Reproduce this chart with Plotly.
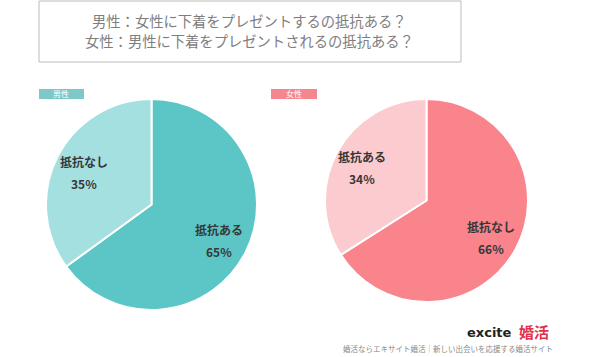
import math
import plotly.graph_objects as go

title_lines = ["男性：女性に下着をプレゼントするの抵抗ある？", "女性：男性に下着をプレゼントされるの抵抗ある？"]

male_labels = ["抵抗ある", "抵抗なし"]
male_values = [65, 35]
male_colors = ["#5cc6c6", "#a5e0e1"]

female_labels = ["抵抗なし", "抵抗ある"]
female_values = [66, 34]
female_colors = ["#f9848b", "#fccbcf"]

group_names = ["男性", "女性"]
group_colors = ["#7fc8c9", "#f6868e"]

footer_logo = "excite"
footer_logo2 = "婚活"
footer_sub = "婚活ならエキサイト婚活｜新しい出会いを応援する婚活サイト"

W, H = 600, 357
FONT = "Noto Sans CJK JP"


def px_x(x):
    return x / W


def px_y(y):
    return 1 - y / H


# pie geometry in pixels: (left, right, top, bottom)
pies = [
    (male_labels, male_values, male_colors, (46, 257, 99, 310)),
    (female_labels, female_values, female_colors, (325, 528, 99, 302)),
]

fig = go.Figure()
annotations = []

for labels, values, colors, (l, r, t, b) in pies:
    fig.add_trace(go.Pie(
        labels=labels, values=values, sort=False, direction="clockwise", rotation=0,
        marker=dict(colors=colors, line=dict(color="white", width=2)),
        textinfo="none",
        domain=dict(x=[px_x(l), px_x(r)], y=[px_y(b), px_y(t)]),
        showlegend=False, hoverinfo="label+percent",
    ))
    cx, cy = (l + r) / 2, (t + b) / 2
    rad = min(r - l, b - t) / 2
    total = sum(values)
    cum = 0
    for lab, v in zip(labels, values):
        mid = (cum + v / 2) / total * 2 * math.pi
        cum += v
        tx = cx + 0.72 * rad * math.sin(mid)
        ty = cy - 0.72 * rad * math.cos(mid) + 2
        pct = round(v / total * 100)
        annotations.append(dict(text="<b>" + lab + "</b>", x=px_x(tx), y=px_y(ty - 11), xref="paper", yref="paper",
                                showarrow=False, font=dict(size=12, color="#383838", family=FONT),
                                xanchor="center", yanchor="middle"))
        annotations.append(dict(text="<b>%d%%</b>" % pct, x=px_x(tx), y=px_y(ty + 11), xref="paper", yref="paper",
                                showarrow=False, font=dict(size=12, color="#383838", family=FONT),
                                xanchor="center", yanchor="middle"))

shapes = [
    dict(type="rect", xref="paper", yref="paper", x0=px_x(39), x1=px_x(461), y0=px_y(62), y1=px_y(1),
         line=dict(color="#bbbbbb", width=1), fillcolor="white", layer="below"),
    dict(type="rect", xref="paper", yref="paper", x0=px_x(39), x1=px_x(84), y0=px_y(99), y1=px_y(89),
         line=dict(width=0), fillcolor=group_colors[0]),
    dict(type="rect", xref="paper", yref="paper", x0=px_x(271), x1=px_x(317), y0=px_y(99), y1=px_y(89),
         line=dict(width=0), fillcolor=group_colors[1]),
]

annotations += [
    dict(text=title_lines[0], x=px_x(249), y=px_y(20), xref="paper", yref="paper", showarrow=False,
         font=dict(size=14.3, color="#7e7e7e", family=FONT), xanchor="center", yanchor="middle"),
    dict(text=title_lines[1], x=px_x(249), y=px_y(40), xref="paper", yref="paper", showarrow=False,
         font=dict(size=14.3, color="#7e7e7e", family=FONT), xanchor="center", yanchor="middle"),
    dict(text=group_names[0], x=px_x(61.5), y=px_y(94), xref="paper", yref="paper", showarrow=False,
         font=dict(size=8, color="white", family=FONT), xanchor="center", yanchor="middle"),
    dict(text=group_names[1], x=px_x(294), y=px_y(94), xref="paper", yref="paper", showarrow=False,
         font=dict(size=8, color="white", family=FONT), xanchor="center", yanchor="middle"),
    dict(text="<b>" + footer_logo + "</b>", x=px_x(514), y=px_y(332), xref="paper", yref="paper", showarrow=False,
         font=dict(size=13, color="#222222", family="DejaVu Sans"), xanchor="right", yanchor="middle"),
    dict(text="<b>" + footer_logo2 + "</b>", x=px_x(517), y=px_y(331), xref="paper", yref="paper", showarrow=False,
         font=dict(size=15, color="#e0344a", family=FONT), xanchor="left", yanchor="middle"),
    dict(text=footer_sub, x=px_x(448), y=px_y(348), xref="paper", yref="paper", showarrow=False,
         font=dict(size=7.5, color="#888888", family=FONT), xanchor="center", yanchor="middle"),
]

fig.update_layout(
    width=W, height=H, margin=dict(l=0, r=0, t=0, b=0),
    paper_bgcolor="white", plot_bgcolor="white",
    shapes=shapes, annotations=annotations,
    font=dict(family=FONT),
)

fig.write_html("out.html", config={"displayModeBar": False},
               post_script="document.body.style.margin='0';document.body.style.overflow='hidden';")
